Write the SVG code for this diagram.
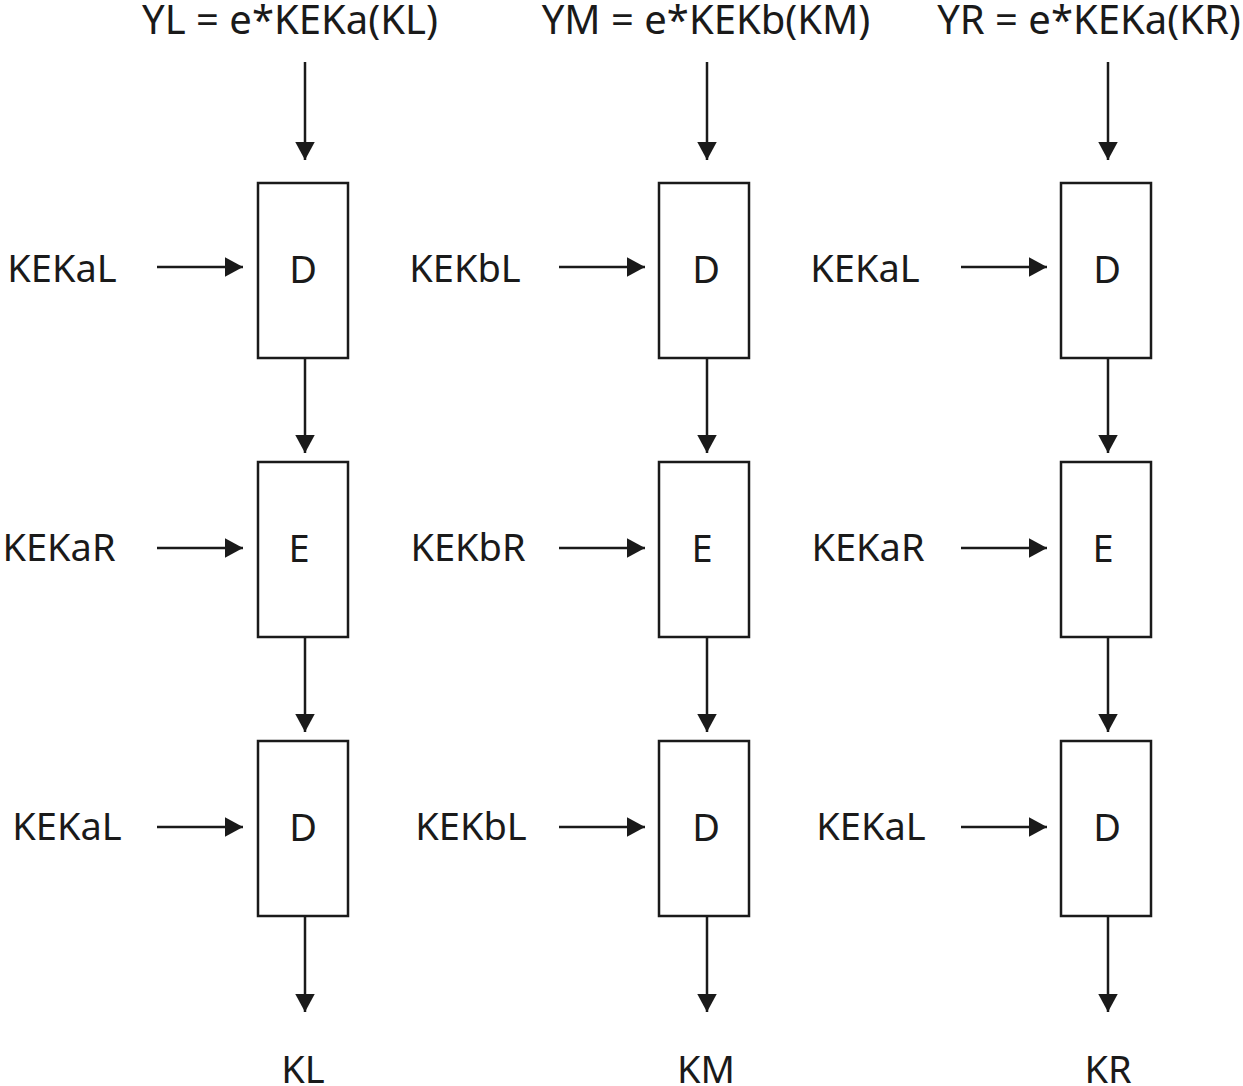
<svg xmlns="http://www.w3.org/2000/svg" width="1243" height="1086" viewBox="0 0 1243 1086">
<style>
text{font-family:"Noto Sans","Open Sans","DejaVu Sans",sans-serif;font-size:38px;fill:#1a1a1a;text-anchor:middle}
.t{font-size:40px}
.box{fill:#fff;stroke:#1a1a1a;stroke-width:2.5}
.ln{stroke:#1a1a1a;stroke-width:2.5;fill:none;marker-end:url(#ah)}
</style>
<defs>
<marker id="ah" markerWidth="9" markerHeight="9" refX="7.4" refY="4" orient="auto" markerUnits="strokeWidth">
<path d="M0,0 L7.4,4 L0,8 Z" fill="#1a1a1a"/>
</marker>
</defs>
<rect width="1243" height="1086" fill="#fff"/>
<g id="titles">
<text class="t" x="290" y="34">YL = e*KEKa(KL)</text>
<text class="t" x="706" y="34">YM = e*KEKb(KM)</text>
<text class="t" x="1089" y="34">YR = e*KEKa(KR)</text>
</g>
<g id="col1">
<g id="d1a"><rect class="box" x="258" y="183" width="90" height="175"/><text x="303" y="283">D</text></g>
<g id="e1"><rect class="box" x="258" y="462" width="90" height="175"/><text x="299" y="562">E</text></g>
<g id="d1b"><rect class="box" x="258" y="741" width="90" height="175"/><text x="303" y="841">D</text></g>
</g>
<g id="col2">
<g id="d2a"><rect class="box" x="659" y="183" width="90" height="175"/><text x="706" y="283">D</text></g>
<g id="e2"><rect class="box" x="659" y="462" width="90" height="175"/><text x="702" y="562">E</text></g>
<g id="d2b"><rect class="box" x="659" y="741" width="90" height="175"/><text x="706" y="841">D</text></g>
</g>
<g id="col3">
<g id="d3a"><rect class="box" x="1061" y="183" width="90" height="175"/><text x="1107" y="283">D</text></g>
<g id="e3"><rect class="box" x="1061" y="462" width="90" height="175"/><text x="1103" y="562">E</text></g>
<g id="d3b"><rect class="box" x="1061" y="741" width="90" height="175"/><text x="1107" y="841">D</text></g>
</g>
<g id="keys">
<text x="62" y="282">KEKaL</text>
<text x="59" y="561">KEKaR</text>
<text x="67" y="840">KEKaL</text>
<text x="465" y="282">KEKbL</text>
<text x="468" y="561">KEKbR</text>
<text x="471" y="840">KEKbL</text>
<text x="865" y="282">KEKaL</text>
<text x="868" y="561">KEKaR</text>
<text x="871" y="840">KEKaL</text>
</g>
<g id="outputs">
<text x="303" y="1083">KL</text>
<text x="706" y="1083">KM</text>
<text x="1108" y="1083">KR</text>
</g>
<g id="connectors">
<line class="ln" x1="305" y1="62" x2="305" y2="160"/>
<line class="ln" x1="305" y1="358" x2="305" y2="453"/>
<line class="ln" x1="305" y1="637" x2="305" y2="732"/>
<line class="ln" x1="305" y1="916" x2="305" y2="1012"/>
<line class="ln" x1="707" y1="62" x2="707" y2="160"/>
<line class="ln" x1="707" y1="358" x2="707" y2="453"/>
<line class="ln" x1="707" y1="637" x2="707" y2="732"/>
<line class="ln" x1="707" y1="916" x2="707" y2="1012"/>
<line class="ln" x1="1108" y1="62" x2="1108" y2="160"/>
<line class="ln" x1="1108" y1="358" x2="1108" y2="453"/>
<line class="ln" x1="1108" y1="637" x2="1108" y2="732"/>
<line class="ln" x1="1108" y1="916" x2="1108" y2="1012"/>
<line class="ln" x1="157" y1="267" x2="243" y2="267"/>
<line class="ln" x1="157" y1="548" x2="243" y2="548"/>
<line class="ln" x1="157" y1="827" x2="243" y2="827"/>
<line class="ln" x1="559" y1="267" x2="645" y2="267"/>
<line class="ln" x1="559" y1="548" x2="645" y2="548"/>
<line class="ln" x1="559" y1="827" x2="645" y2="827"/>
<line class="ln" x1="961" y1="267" x2="1047" y2="267"/>
<line class="ln" x1="961" y1="548" x2="1047" y2="548"/>
<line class="ln" x1="961" y1="827" x2="1047" y2="827"/>
</g>
</svg>
